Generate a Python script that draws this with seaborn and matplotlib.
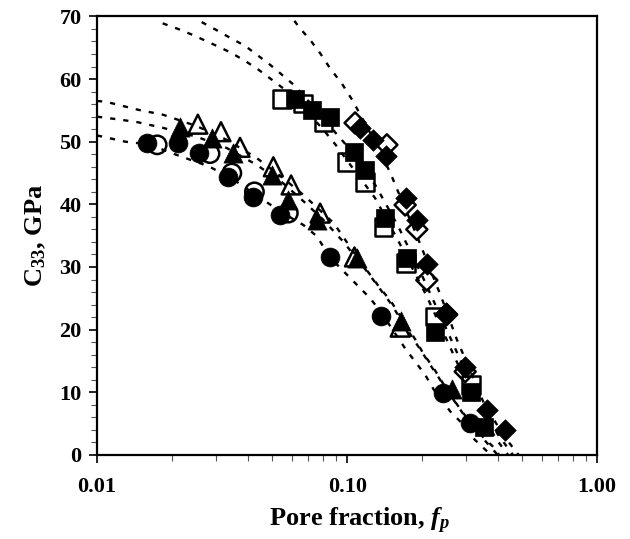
import matplotlib
matplotlib.use("Agg")
import matplotlib.pyplot as plt
import seaborn as sns
import numpy as np
from matplotlib.ticker import NullFormatter, MultipleLocator, LogLocator

# ---------------- data ----------------
fp_circ_filled = [0.0158, 0.0211, 0.0256, 0.0333, 0.0421, 0.0540, 0.0855, 0.1364, 0.2428, 0.3105]
c_circ_filled  = [49.8, 49.8, 48.2, 44.4, 41.2, 38.3, 31.6, 22.1, 9.9, 5.1]
fp_circ_open   = [0.0174, 0.0283, 0.0346, 0.0426, 0.0582]
c_circ_open    = [49.5, 48.1, 45.0, 42.0, 38.6]

fp_tri_filled  = [0.0215, 0.0288, 0.0351, 0.0500, 0.0582, 0.0756, 0.1093, 0.1640, 0.2620]
c_tri_filled   = [52.4, 50.6, 48.2, 44.7, 40.7, 37.5, 31.4, 21.3, 10.6]
fp_tri_open    = [0.0253, 0.0313, 0.0373, 0.0507, 0.0597, 0.0780, 0.1070, 0.1630]
c_tri_open     = [52.8, 51.6, 49.1, 46.0, 43.1, 38.6, 31.6, 20.4]

fp_sq_filled   = [0.0620, 0.0726, 0.0855, 0.1067, 0.1180, 0.1420, 0.1740, 0.2250, 0.3125, 0.3510]
c_sq_filled    = [56.8, 55.1, 54.0, 48.3, 45.5, 37.8, 31.4, 19.7, 10.1, 4.5]
fp_sq_open     = [0.0548, 0.0668, 0.0804, 0.0997, 0.1180, 0.1397, 0.1720, 0.2250, 0.3125]
c_sq_open      = [56.8, 56.1, 53.2, 46.8, 43.6, 36.4, 30.6, 22.1, 11.2]

fp_dia_filled  = [0.1127, 0.1267, 0.1432, 0.1720, 0.1910, 0.2083, 0.2480, 0.2965, 0.3620, 0.4285]
c_dia_filled   = [52.2, 50.3, 47.7, 41.0, 37.5, 30.5, 22.6, 14.1, 7.2, 4.0]
fp_dia_open    = [0.1076, 0.1442, 0.1706, 0.1900, 0.2083, 0.2500, 0.2965]
c_dia_open     = [53.0, 49.5, 39.9, 36.0, 27.9, 22.4, 13.3]

# dotted model curves
fp_curve_a = [0.0100, 0.0130, 0.0160, 0.0218, 0.0279, 0.0350, 0.0450, 0.0560, 0.0669, 0.0757, 0.0855, 0.1110, 0.1237, 0.1364, 0.1706, 0.2050, 0.2222, 0.2590, 0.2872, 0.3146, 0.3450, 0.3750]
c_curve_a  = [51.0, 50.0, 49.6, 47.6, 46.1, 44.0, 41.0, 38.5, 36.7, 34.9, 31.5, 26.9, 25.0, 22.8, 17.0, 12.8, 10.4, 6.9, 5.1, 2.9, 1.4, 0.0]
fp_curve_b = [0.0100, 0.0125, 0.0146, 0.0184, 0.0250, 0.0330, 0.0435, 0.0550, 0.0669, 0.0800, 0.0967, 0.1200, 0.1487, 0.1875, 0.2222, 0.2600, 0.3000, 0.3500, 0.4000]
c_curve_b  = [54.0, 53.5, 53.1, 52.2, 50.8, 49.0, 46.3, 43.5, 40.5, 37.6, 34.0, 29.3, 24.3, 18.0, 13.5, 9.4, 5.8, 2.6, 0.0]
fp_curve_c = [0.0100, 0.0108, 0.0146, 0.0184, 0.0250, 0.0330, 0.0435, 0.0550, 0.0669, 0.0884, 0.1100, 0.1356, 0.1487, 0.1875, 0.2016, 0.2222, 0.2392, 0.2800, 0.3300, 0.3906, 0.4050]
c_curve_c  = [56.5, 56.4, 55.1, 54.3, 52.5, 50.3, 47.4, 44.3, 41.5, 37.0, 31.5, 26.6, 24.7, 18.4, 16.2, 13.8, 11.7, 7.6, 3.8, 1.0, 0.0]
fp_curve_d = [0.0183, 0.0211, 0.0243, 0.0301, 0.0340, 0.0391, 0.0442, 0.0500, 0.0556, 0.0650, 0.0800, 0.0900, 0.1000, 0.1294, 0.1605, 0.2083, 0.2540, 0.3000, 0.3500, 0.4000, 0.4400]
c_curve_d  = [68.9, 68.0, 67.0, 65.3, 64.3, 62.9, 61.5, 59.9, 58.5, 56.0, 52.0, 49.5, 47.0, 41.0, 34.1, 25.3, 17.8, 11.5, 6.0, 2.2, 0.0]
fp_curve_e = [0.0262, 0.0301, 0.0340, 0.0391, 0.0442, 0.0495, 0.0556, 0.0611, 0.0700, 0.0802, 0.0900, 0.1000, 0.1300, 0.1600, 0.2000, 0.2500, 0.3000, 0.3500, 0.4000, 0.4600]
c_curve_e  = [69.1, 67.8, 66.6, 65.3, 63.7, 62.2, 60.5, 59.1, 56.5, 53.8, 51.4, 49.3, 43.0, 36.5, 28.5, 20.0, 13.0, 7.5, 3.3, 0.0]
fp_curve_f = [0.0615, 0.0648, 0.0710, 0.0781, 0.0855, 0.0952, 0.1047, 0.1112, 0.1300, 0.1490, 0.1580, 0.1900, 0.2390, 0.2747, 0.2916, 0.3500, 0.4200, 0.4850]
c_curve_f  = [69.3, 68.1, 66.3, 64.1, 61.7, 59.3, 56.7, 54.8, 49.8, 45.0, 42.5, 35.0, 25.0, 18.4, 16.0, 8.5, 3.2, 0.0]

x_tick_vals = [0.01, 0.1, 1.0]
x_tick_labels = ["0.01", "0.10", "1.00"]
y_tick_vals = [0, 10, 20, 30, 40, 50, 60, 70]

# ---------------- style ----------------
sns.set_theme(style="ticks")
plt.rcParams["font.family"] = ["Liberation Serif", "DejaVu Serif"]
plt.rcParams["font.weight"] = "bold"
plt.rcParams["text.color"] = "black"
plt.rcParams["axes.labelcolor"] = "black"
plt.rcParams["xtick.color"] = "black"
plt.rcParams["ytick.color"] = "black"
plt.rcParams["mathtext.fontset"] = "custom"
plt.rcParams["mathtext.rm"] = "Liberation Serif:bold"
plt.rcParams["mathtext.bf"] = "Liberation Serif:bold"
plt.rcParams["mathtext.it"] = "Liberation Serif:italic:bold"

fig = plt.figure(figsize=(6.30, 5.39), dpi=100)
ax = fig.add_axes([0.154, 0.156, 0.794, 0.8135])
ax.set_xscale("log")

curve_style = dict(color="black", linewidth=1.7, linestyle=(0, (2.2, 3.4)),
                   sort=False, estimator=None, ax=ax, zorder=1, legend=False)
for fx, cy in [(fp_curve_a, c_curve_a), (fp_curve_b, c_curve_b), (fp_curve_c, c_curve_c),
               (fp_curve_d, c_curve_d), (fp_curve_e, c_curve_e), (fp_curve_f, c_curve_f)]:
    sns.lineplot(x=fx, y=cy, **curve_style)

open_kw = dict(facecolor="none", edgecolor="black", linewidth=1.8, ax=ax, zorder=2, legend=False)
fill_kw = dict(color="black", edgecolor="black", linewidth=0.5, ax=ax, zorder=3, legend=False)

sns.scatterplot(x=fp_circ_open, y=c_circ_open, marker="o", s=175, **open_kw)
sns.scatterplot(x=fp_tri_open, y=c_tri_open, marker="^", s=185, **open_kw)
sns.scatterplot(x=fp_sq_open, y=c_sq_open, marker="s", s=165, **open_kw)
sns.scatterplot(x=fp_dia_open, y=c_dia_open, marker="D", s=115, **open_kw)

sns.scatterplot(x=fp_circ_filled, y=c_circ_filled, marker="o", s=185, **fill_kw)
sns.scatterplot(x=fp_tri_filled, y=c_tri_filled, marker="^", s=190, **fill_kw)
sns.scatterplot(x=fp_sq_filled, y=c_sq_filled, marker="s", s=175, **fill_kw)
sns.scatterplot(x=fp_dia_filled, y=c_dia_filled, marker="D", s=120, **fill_kw)

ax.set_xlim(0.01, 1.0)
ax.set_ylim(0, 70)
ax.set_xticks(x_tick_vals)
ax.set_xticklabels(x_tick_labels)
ax.xaxis.set_minor_locator(LogLocator(base=10, subs=np.arange(2, 10)))
ax.xaxis.set_minor_formatter(NullFormatter())
ax.set_yticks(y_tick_vals)
ax.yaxis.set_minor_locator(MultipleLocator(2))

for sp in ax.spines.values():
    sp.set_visible(True)
    sp.set_linewidth(1.6)
    sp.set_color("black")

ax.tick_params(which="major", direction="out", length=6, width=1.2, color="black",
               labelsize=16, labelcolor="black")
ax.tick_params(axis="x", which="major", pad=10)
ax.tick_params(axis="y", which="major", pad=5)
ax.tick_params(which="minor", direction="out", length=4, width=0.8, color="#555555")
for lbl in ax.get_xticklabels() + ax.get_yticklabels():
    lbl.set_fontweight("bold")

ax.set_xlabel(r"Pore fraction, $\mathit{f_p}$", fontsize=19, fontweight="bold", labelpad=6)
ax.xaxis.label.set_x(0.525)
ax.set_ylabel(r"C$_{33}$, GPa", fontsize=19, fontweight="bold", labelpad=8)
ax.grid(False)

fig.savefig("out.png", dpi=100)
